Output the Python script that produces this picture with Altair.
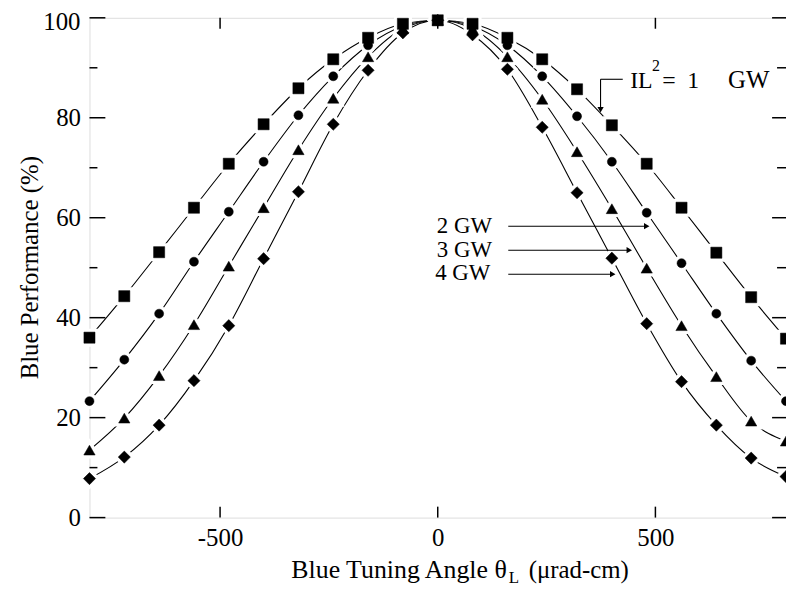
import altair as alt
import pandas as pd

# ---- data ----
angles = [-800, -720, -640, -560, -480, -400, -320, -240, -160, -80, 0,
          80, 160, 240, 320, 400, 480, 560, 640, 720, 800]
gw1 = [36.0, 44.3, 53.1, 62.0, 70.8, 78.7, 85.9, 91.7, 96.0, 98.8, 99.5,
       98.8, 96.0, 91.7, 85.7, 78.5, 70.8, 62.0, 53.0, 44.1, 35.8]
gw2 = [23.3, 31.6, 40.8, 51.2, 61.2, 71.2, 80.5, 88.3, 94.5, 98.3, 99.5,
       98.3, 94.5, 88.3, 80.3, 71.2, 61.0, 50.9, 40.8, 31.4, 23.3]
gw3 = [13.5, 19.9, 28.4, 38.6, 50.3, 62.0, 73.6, 83.9, 92.2, 97.8, 99.5,
       97.8, 92.2, 83.7, 73.2, 61.8, 49.9, 38.4, 28.2, 19.3, 15.3]
gw4 = [7.8, 12.1, 18.5, 27.4, 38.4, 51.8, 65.2, 78.7, 89.5, 97.0, 99.5,
       96.6, 89.7, 78.1, 65.0, 51.9, 38.8, 27.2, 18.5, 11.9, 8.2]
series_names = ["1 GW", "2 GW", "3 GW", "4 GW"]
shapes = ["square", "circle", "triangle-up", "diamond"]
sizes = [125, 82, 130, 150]

x_tick_values = [-500, 0, 500]
y_label_values = [0, 20, 40, 60, 80]
y_top_label = [100]
y_major_values = [0, 20, 40, 60, 80, 100]
y_minor_values = [10, 30, 50, 70, 90]

# annotations (data coordinates)
gw_labels = ["2 GW", "3 GW", "4 GW"]
gw_label_x = [-2, -2, -6]
gw_label_y = [56.9, 52.2, 47.5]
arrow_x1 = [162, 162, 162]
arrow_x2 = [480, 440, 402]
arrow_y = [58.3, 53.5, 48.7]

il_pieces = ["IL", "2", "=", "1", "GW"]
il_piece_x = [442, 492, 516, 573, 667]
il_piece_y = [85.9, 89.3, 85.9, 85.9, 85.9]
il_piece_size = [24, 16, 24, 24, 25]
il_bracket_x = [374, 425]
il_bracket_y = [87.7, 81.6]

FONT = "Liberation Serif"
W, H = 701, 503

rows = []
for name, vals in zip(series_names, [gw1, gw2, gw3, gw4]):
    for a, v in zip(angles, vals):
        rows.append({"angle": a, "perf": v, "series": name})
df = pd.DataFrame(rows)

xs = alt.Scale(domain=[-800, 800], nice=False, zero=False)
ys = alt.Scale(domain=[0, 100], nice=False, zero=False)

x_enc = alt.X("angle:Q", scale=xs,
              axis=alt.Axis(values=x_tick_values, title=None, ticks=False, domain=False,
                            grid=False, labelFont=FONT, labelFontSize=25, labelColor="black",
                            labelPadding=8, labelFlush=False, labelExpr="'' + datum.value"))
y_enc = alt.Y("perf:Q", scale=ys,
              axis=alt.Axis(values=y_label_values, title=None, ticks=False, domain=False,
                            grid=False, labelFont=FONT, labelFontSize=25, labelColor="black",
                            labelPadding=9, labelFlush=False))

base = alt.Chart(df)
lines = base.mark_line(color="black", strokeWidth=1.1, interpolate="monotone").encode(
    x=x_enc, y=y_enc, detail="series:N")

halo_layers = []
point_layers = []
for name, shp, sz in zip(series_names, shapes, sizes):
    sub = base.transform_filter(alt.datum.series == name)
    halo_layers.append(sub.mark_point(shape=shp, size=sz, filled=True, fill="white", stroke="white",
                                      strokeWidth=7, opacity=1).encode(x=x_enc, y=y_enc))
    point_layers.append(sub.mark_point(shape=shp, size=sz, filled=True, fill="black", stroke="black",
                                       strokeWidth=0.5, opacity=1).encode(x=x_enc, y=y_enc))

# top "100" label of the y axis (sits slightly below its tick in the reference)
top_lab = alt.Chart(pd.DataFrame({"perf": y_top_label})).mark_text(
    align="right", baseline="middle", font=FONT, fontSize=25, color="black", dy=4
).encode(x=alt.value(-9), y=y_enc, text="perf:Q")

# arrows for 2/3/4 GW
arr_df = pd.DataFrame({"angle": arrow_x1, "angle2": arrow_x2, "perf": arrow_y})
arr_lines = alt.Chart(arr_df).mark_rule(color="black", strokeWidth=1.1).encode(
    x=x_enc, x2="angle2:Q", y=y_enc)
head_df = pd.DataFrame({"angle": arrow_x2, "perf": arrow_y})
arr_heads = alt.Chart(head_df).mark_point(shape="triangle-right", filled=True, fill="black",
                                          size=40, opacity=1).encode(x=x_enc, y=y_enc)
gw_df = pd.DataFrame({"angle": gw_label_x, "perf": gw_label_y, "label": gw_labels})
gw_text = alt.Chart(gw_df).mark_text(align="left", baseline="alphabetic", font=FONT,
                                     fontSize=23, color="black").encode(
    x=x_enc, y=y_enc, text="label:N")

# IL^2 = 1 GW bracket arrow
brh_df = pd.DataFrame({"angle": [il_bracket_x[0]], "angle2": [il_bracket_x[1]], "perf": [il_bracket_y[0]]})
br_h = alt.Chart(brh_df).mark_rule(color="black", strokeWidth=1.1).encode(x=x_enc, x2="angle2:Q", y=y_enc)
brv_df = pd.DataFrame({"angle": [il_bracket_x[0]], "perf": [il_bracket_y[0]], "perf2": [il_bracket_y[1]]})
br_v = alt.Chart(brv_df).mark_rule(color="black", strokeWidth=1.1).encode(x=x_enc, y=y_enc, y2="perf2:Q")
brhead_df = pd.DataFrame({"angle": [il_bracket_x[0]], "perf": [il_bracket_y[1]]})
br_head = alt.Chart(brhead_df).mark_point(shape="triangle-down", filled=True, fill="black",
                                          size=40, opacity=1).encode(x=x_enc, y=y_enc)
il_df = pd.DataFrame({"angle": il_piece_x, "perf": il_piece_y, "label": il_pieces,
                      "fs": il_piece_size})
il_text = alt.Chart(il_df).mark_text(align="left", baseline="alphabetic", font=FONT,
                                     color="black").encode(
    x=x_enc, y=y_enc, text="label:N",
    size=alt.Size("fs:Q", scale=None, legend=None))

# inward ticks
maj_df = pd.DataFrame({"perf": y_major_values})
min_df = pd.DataFrame({"perf": y_minor_values})
xt_df = pd.DataFrame({"angle": x_tick_values})
tick_layers = [
    alt.Chart(maj_df).mark_rule(color="black", strokeWidth=1.5).encode(y=y_enc, x=alt.value(0), x2=alt.value(16)),
    alt.Chart(min_df).mark_rule(color="black", strokeWidth=1.5).encode(y=y_enc, x=alt.value(0), x2=alt.value(8)),
    alt.Chart(maj_df).mark_rule(color="black", strokeWidth=1.5).encode(y=y_enc, x=alt.value(W), x2=alt.value(W - 14)),
    alt.Chart(min_df).mark_rule(color="black", strokeWidth=1.5).encode(y=y_enc, x=alt.value(W), x2=alt.value(W - 9)),
    alt.Chart(xt_df).mark_rule(color="black", strokeWidth=1.5).encode(x=x_enc, y=alt.value(0), y2=alt.value(11)),
    alt.Chart(xt_df).mark_rule(color="black", strokeWidth=1.5).encode(x=x_enc, y=alt.value(H), y2=alt.value(H - 11)),
]

# axis titles as text (x title has subscript)
def title_piece(txt, px, py, size, align, angle=0):
    return alt.Chart(pd.DataFrame({"t": [txt]})).mark_text(
        align=align, baseline="alphabetic", font=FONT, fontSize=size, color="black", angle=angle
    ).encode(x=alt.value(px), y=alt.value(py), text="t:N")

xt_main = title_piece("Blue Tuning Angle \u03b8", 420, 564, 26, "right")
xt_sub = title_piece("L", 422, 569, 17, "left")
xt_tail = title_piece("(\u03bcrad-cm)", 442, 564, 25, "left")
yt = title_piece("Blue Performance (%)", -52, H / 2, 25, "center", angle=270)

chart = alt.layer(
    lines, *halo_layers, *point_layers, top_lab, arr_lines, arr_heads, gw_text,
    br_h, br_v, br_head, il_text, *tick_layers, xt_main, xt_sub, xt_tail, yt
).properties(
    width=W, height=H,
    autosize=alt.AutoSizeParams(type="none"),
    padding={"left": 82, "top": 8, "right": 0, "bottom": 70},
).configure_view(stroke="black", strokeWidth=1.5).configure(background="white")

chart.save("out.html", embed_options={"renderer": "svg", "actions": False})
